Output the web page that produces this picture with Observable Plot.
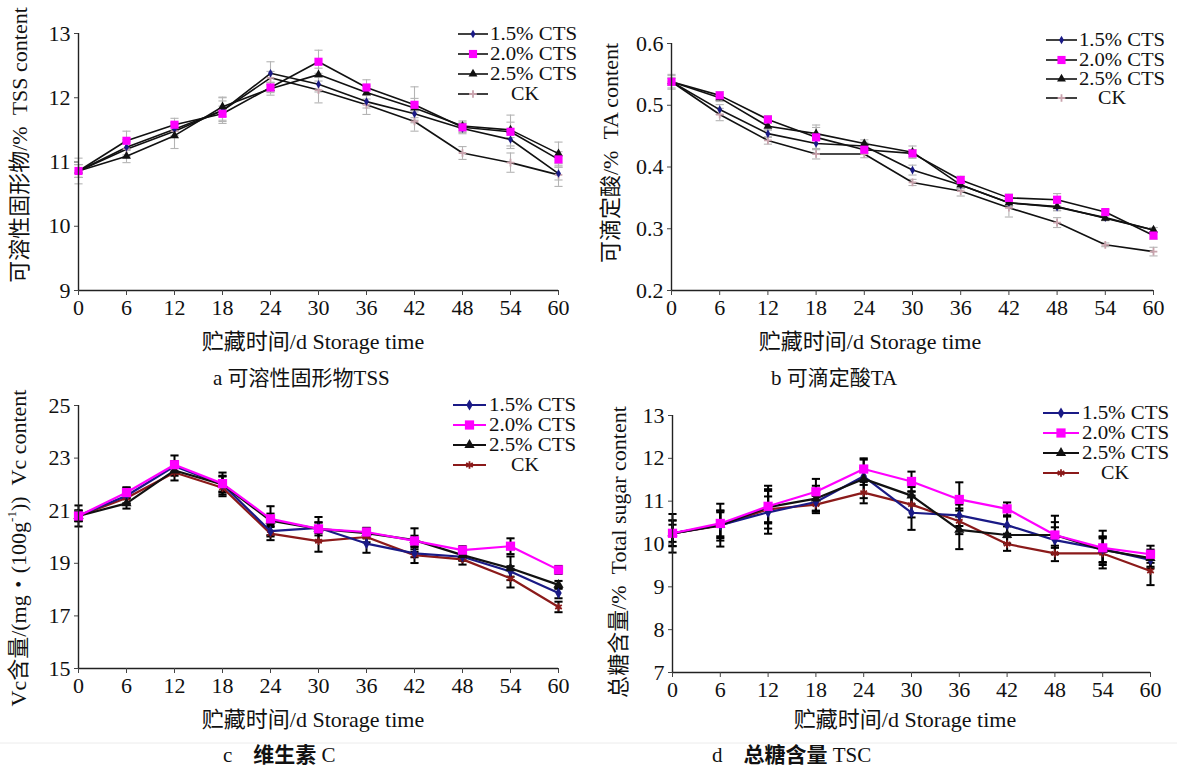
<!DOCTYPE html>
<html><head><meta charset="utf-8">
<script src="https://cdn.jsdelivr.net/npm/d3@7"></script>
<script src="https://cdn.jsdelivr.net/npm/@observablehq/plot@0.6"></script>
<style>
html,body{margin:0;padding:0;background:#fff;}
body{width:1177px;height:770px;position:relative;overflow:hidden;}
.panel{position:absolute;}
</style></head>
<body>
<script>
// ---------------- data ----------------
const days = [0, 6, 12, 18, 24, 30, 36, 42, 48, 54, 60];
const seriesNames = ["1.5% CTS", "2.0% CTS", "2.5% CTS", "CK"];

// a: soluble solids (TSS, %)
const tss15 = [10.86, 11.23, 11.51, 11.80, 12.38, 12.21, 11.94, 11.75, 11.52, 11.35, 10.82];
const tss20 = [10.86, 11.33, 11.58, 11.75, 12.16, 12.56, 12.16, 11.89, 11.54, 11.47, 11.04];
const tss25 = [10.86, 11.09, 11.41, 11.86, 12.14, 12.36, 12.08, 11.84, 11.56, 11.50, 11.13];
const tssCK = [10.86, 11.20, 11.48, 11.80, 12.31, 12.12, 11.89, 11.63, 11.14, 10.99, 10.80];
const tssErr15 = [0.20, 0.12, 0.10, 0.15, 0.18, 0.12, 0.10, 0.10, 0.08, 0.10, 0.10];
const tssErr20 = [0.10, 0.15, 0.10, 0.12, 0.08, 0.18, 0.12, 0.28, 0.08, 0.26, 0.12];
const tssErr25 = [0.10, 0.10, 0.20, 0.15, 0.10, 0.10, 0.10, 0.15, 0.08, 0.12, 0.18];
const tssErrCK = [0.10, 0.12, 0.10, 0.20, 0.10, 0.20, 0.15, 0.15, 0.10, 0.15, 0.18];

// b: titratable acid (TA, %)
const ta15 = [0.538, 0.493, 0.454, 0.438, 0.434, 0.395, 0.371, 0.342, 0.335, 0.318, 0.298];
const ta20 = [0.538, 0.516, 0.477, 0.448, 0.428, 0.422, 0.379, 0.350, 0.347, 0.327, 0.289];
const ta25 = [0.538, 0.512, 0.466, 0.454, 0.438, 0.424, 0.371, 0.342, 0.336, 0.317, 0.298];
const taCK = [0.538, 0.485, 0.443, 0.421, 0.421, 0.375, 0.361, 0.334, 0.310, 0.274, 0.263];
const taErr15 = [0.010, 0.008, 0.006, 0.008, 0.006, 0.008, 0.006, 0.006, 0.006, 0.004, 0.004];
const taErr20 = [0.006, 0.006, 0.006, 0.020, 0.006, 0.006, 0.006, 0.006, 0.010, 0.004, 0.006];
const taErr25 = [0.006, 0.006, 0.006, 0.010, 0.006, 0.010, 0.006, 0.006, 0.006, 0.004, 0.004];
const taErrCK = [0.012, 0.010, 0.006, 0.008, 0.006, 0.005, 0.008, 0.015, 0.008, 0.003, 0.007];

// c: vitamin C (mg/100g)
const vc15 = [20.81, 21.57, 22.69, 22.00, 20.22, 20.35, 19.75, 19.38, 19.25, 18.69, 17.87];
const vc20 = [20.80, 21.69, 22.75, 22.03, 20.69, 20.31, 20.19, 19.85, 19.50, 19.65, 18.75];
const vc25 = [20.80, 21.28, 22.53, 22.00, 20.62, 20.31, 20.15, 19.88, 19.31, 18.81, 18.18];
const vcCK = [20.80, 21.48, 22.45, 21.87, 20.13, 19.84, 20.00, 19.31, 19.15, 18.43, 17.34];
const vcErr15 = [0.20, 0.30, 0.20, 0.30, 0.20, 0.20, 0.35, 0.15, 0.15, 0.20, 0.20];
const vcErr20 = [0.20, 0.20, 0.35, 0.30, 0.20, 0.25, 0.15, 0.20, 0.15, 0.30, 0.15];
const vcErr25 = [0.40, 0.20, 0.20, 0.45, 0.55, 0.45, 0.20, 0.45, 0.20, 0.45, 0.15];
const vcErrCK = [0.20, 0.20, 0.30, 0.25, 0.25, 0.40, 0.20, 0.30, 0.20, 0.35, 0.20];

// d: total sugar (%)
const ts15 = [10.25, 10.44, 10.74, 10.98, 11.58, 10.73, 10.67, 10.44, 10.09, 9.88, 9.63];
const ts20 = [10.25, 10.48, 10.88, 11.22, 11.75, 11.46, 11.04, 10.82, 10.21, 9.91, 9.76];
const ts25 = [10.25, 10.44, 10.86, 11.06, 11.52, 11.13, 10.33, 10.21, 10.21, 9.86, 9.67];
const tsCK = [10.25, 10.43, 10.81, 10.92, 11.20, 10.92, 10.53, 10.00, 9.78, 9.78, 9.37];
const tsErr15 = [0.45, 0.30, 0.50, 0.20, 0.20, 0.40, 0.25, 0.20, 0.30, 0.30, 0.20];
const tsErr20 = [0.20, 0.30, 0.40, 0.30, 0.25, 0.23, 0.40, 0.15, 0.30, 0.40, 0.20];
const tsErr25 = [0.30, 0.50, 0.50, 0.30, 0.45, 0.20, 0.45, 0.20, 0.45, 0.30, 0.20];
const tsErrCK = [0.30, 0.35, 0.30, 0.20, 0.25, 0.30, 0.30, 0.16, 0.18, 0.35, 0.33];

// tick values
const ticksA = [9, 10, 11, 12, 13];
const ticksB = [0.2, 0.3, 0.4, 0.5, 0.6];
const ticksC = [15, 17, 19, 21, 23, 25];
const ticksD = [7, 8, 9, 10, 11, 12, 13];

// ---------------- styles ----------------
const FONT = "'Liberation Serif','Noto Sans CJK SC',serif";
const NAVY = "#1a1a86", MAG = "#ff00ff", BLK = "#111111", RED = "#8b1a1a";

const styleMono = { // panels a, b
  line: [BLK, BLK, BLK, BLK],
  mark: [NAVY, MAG, BLK, "#c9a3ad"],
  sym: ["diamond", "square", "triangle", "plus"],
  r: [2.6, 4.6, 3.3, 2.6],
  lw: 1.6, err: "#b4b4b4", errW: 1.1
};
const styleColor = { // panels c, d
  line: [NAVY, MAG, BLK, RED],
  mark: [NAVY, MAG, BLK, RED],
  sym: ["diamond", "square", "triangle", "asterisk"],
  r: [3.4, 5.2, 3.8, 3.6],
  lw: 2.2, err: "#000", errW: 2
};

const capSymbol = {draw(ctx, size) { const w = Math.sqrt(size); ctx.moveTo(-w, 0); ctx.lineTo(w, 0); }};

function panel(cfg) {
  const st = cfg.style;
  const marks = [];
  cfg.values.forEach((vals, i) => {
    const d = days.map((day, j) => ({name: seriesNames[i], day, v: vals[j], e: cfg.errs[i][j]}));
    marks.push(Plot.ruleX(d, {x: "day", y1: r => r.v - r.e, y2: r => r.v + r.e, stroke: st.err, strokeWidth: st.errW}));
    marks.push(Plot.dot(d, {x: "day", y: r => r.v + r.e, symbol: capSymbol, r: 2.3, stroke: st.err, strokeWidth: st.errW, fill: "none"}));
    marks.push(Plot.dot(d, {x: "day", y: r => r.v - r.e, symbol: capSymbol, r: 2.3, stroke: st.err, strokeWidth: st.errW, fill: "none"}));
  });
  const order = [3, 0, 2, 1];
  order.forEach(i => {
    const d = days.map((day, j) => ({name: seriesNames[i], day, v: cfg.values[i][j]}));
    marks.push(Plot.line(d, {x: "day", y: "v", stroke: st.line[i], strokeWidth: st.lw}));
  });
  order.forEach(i => {
    const d = days.map((day, j) => ({name: seriesNames[i], day, v: cfg.values[i][j]}));
    const strokeSym = st.sym[i] === "plus" || st.sym[i] === "asterisk";
    marks.push(Plot.dot(d, strokeSym
      ? {x: "day", y: "v", symbol: st.sym[i], r: st.r[i], stroke: st.mark[i], strokeWidth: 1.8, fill: "none"}
      : {x: "day", y: "v", symbol: st.sym[i], r: st.r[i], fill: st.mark[i], stroke: "none"}));
  });
  marks.push(Plot.ruleX([0], {stroke: "#222", strokeWidth: 1.4}));
  marks.push(Plot.ruleY([cfg.yDomain[0]], {stroke: "#222", strokeWidth: 1.4}));
  marks.push(Plot.axisX({ticks: days, tickSize: 5, tickPadding: 4, tickFormat: d => String(d), label: null, stroke: "#444"}));
  marks.push(Plot.axisY({ticks: cfg.yTicks, tickSize: 4, tickPadding: 4, tickFormat: cfg.fmt, label: null, stroke: "#444"}));
  const svg = Plot.plot({
    width: cfg.width, height: cfg.height,
    marginLeft: cfg.m[0], marginTop: cfg.m[1], marginRight: cfg.m[2], marginBottom: cfg.m[3],
    x: {domain: [0, 60]},
    y: {domain: cfg.yDomain},
    style: {fontSize: "22px", fontFamily: FONT, color: "#111", background: "transparent", overflow: "visible"},
    marks
  });
  svg.classList.add("panel");
  svg.style.left = cfg.left + "px";
  svg.style.top = cfg.top + "px";
  document.body.appendChild(svg);
}

panel({left: 0, top: 0, width: 590, height: 330, m: [78, 33, 32, 40], yDomain: [9, 13], yTicks: ticksA, fmt: d => String(d),
  values: [tss15, tss20, tss25, tssCK], errs: [tssErr15, tssErr20, tssErr25, tssErrCK], style: styleMono});
panel({left: 590, top: 0, width: 587, height: 330, m: [81, 43, 24, 40], yDomain: [0.2, 0.6], yTicks: ticksB, fmt: d => d.toFixed(1),
  values: [ta15, ta20, ta25, taCK], errs: [taErr15, taErr20, taErr25, taErrCK], style: styleMono});
panel({left: 0, top: 385, width: 590, height: 320, m: [78, 20, 32, 37], yDomain: [15, 25], yTicks: ticksC, fmt: d => String(d),
  values: [vc15, vc20, vc25, vcCK], errs: [vcErr15, vcErr20, vcErr25, vcErrCK], style: styleColor});
panel({left: 590, top: 385, width: 587, height: 320, m: [82, 30, 27, 33], yDomain: [7, 13], yTicks: ticksD, fmt: d => String(d),
  values: [ts15, ts20, ts25, tsCK], errs: [tsErr15, tsErr20, tsErr25, tsErrCK], style: styleColor});

// ---------------- overlay: labels, captions, legends ----------------
const ov = d3.select("body").append("svg")
  .attr("width", 1177).attr("height", 770)
  .style("position", "absolute").style("left", 0).style("top", 0)
  .style("font-family", FONT).style("pointer-events", "none");

ov.append("line").attr("x1", 0).attr("x2", 1177).attr("y1", 743).attr("y2", 743).attr("stroke", "#ececec");

const xLabels = [{x: 313, y: 349}, {x: 870, y: 349}, {x: 313, y: 727}, {x: 905, y: 727}];
xLabels.forEach(p => ov.append("text").attr("x", p.x).attr("y", p.y).attr("text-anchor", "middle")
  .attr("font-size", 22).attr("fill", "#111").text("贮藏时间/d Storage time"));

const yLabels = [
  {x: 22, y: 145, parts: [["可溶性固形物/%\u00a0\u00a0TSS content"]]},
  {x: 613, y: 153, parts: [["可滴定酸/%\u00a0\u00a0TA content"]]},
  {x: 21, y: 548, parts: [["Vc含量/(mg・(100g"], ["-1", "sup"], ["))\u00a0\u00a0Vc content"]]},
  {x: 621, y: 552, parts: [["总糖含量/%\u00a0\u00a0Total sugar content"]]}
];
yLabels.forEach(p => {
  const t = ov.append("text").attr("transform", `translate(${p.x},${p.y}) rotate(-90)`)
    .attr("text-anchor", "middle").attr("dominant-baseline", "middle").attr("font-size", 22).attr("fill", "#111");
  p.parts.forEach(([s, k]) => {
    const ts = t.append("tspan").text(s);
    if (k === "sup") ts.attr("font-size", 13).attr("dy", -8);
    else if (p.parts.length > 1 && s.startsWith(")")) ts.attr("dy", 8);
  });
});

const captions = [
  {x: 213, y: 385, parts: [["a 可溶性固形物TSS", 400]]},
  {x: 771, y: 385, parts: [["b 可滴定酸TA", 400]]},
  {x: 223, y: 762, parts: [["c", 400], ["\u00a0\u00a0\u00a0\u00a0维生素", 700], ["\u00a0C", 400]]},
  {x: 712, y: 762, parts: [["d", 400], ["\u00a0\u00a0\u00a0\u00a0总糖含量", 700], ["\u00a0TSC", 400]]}
];
captions.forEach(c => {
  const t = ov.append("text").attr("x", c.x).attr("y", c.y).attr("font-size", 21).attr("fill", "#111");
  c.parts.forEach(([s, w]) => t.append("tspan").attr("font-weight", w).text(s));
});

const legends = [
  {x0: 458, x1: 488, tx: 490, ck: 511, ys: [34, 54, 74, 94], tl: 87, style: styleMono},
  {x0: 1046, x1: 1077, tx: 1079, ck: 1098, ys: [40, 60, 79, 98], tl: 86, style: styleMono},
  {x0: 453, x1: 486, tx: 489, ck: 511, ys: [405, 425, 445, 465], tl: 87, style: styleColor},
  {x0: 1043, x1: 1079, tx: 1082, ck: 1101, ys: [413, 433, 453, 473], tl: 87, style: styleColor}
];
const d3sym = {diamond: d3.symbolDiamond, square: d3.symbolSquare, triangle: d3.symbolTriangle, plus: d3.symbolPlus, asterisk: d3.symbolAsterisk};
legends.forEach(L => {
  const st = L.style;
  seriesNames.forEach((name, i) => {
    const y = L.ys[i];
    ov.append("line").attr("x1", L.x0).attr("x2", L.x1).attr("y1", y).attr("y2", y)
      .attr("stroke", st.line[i]).attr("stroke-width", st.lw);
    const strokeSym = st.sym[i] === "plus" || st.sym[i] === "asterisk";
    const path = d3.symbol(d3sym[st.sym[i]], Math.PI * st.r[i] * st.r[i])();
    const p = ov.append("path").attr("d", path).attr("transform", `translate(${(L.x0 + L.x1) / 2},${y})`);
    if (strokeSym) p.attr("fill", "none").attr("stroke", st.mark[i]).attr("stroke-width", 1.8);
    else p.attr("fill", st.mark[i]);
    const t = ov.append("text").attr("x", i === 3 ? L.ck : L.tx).attr("y", y).attr("dy", "0.35em")
      .attr("font-size", 18).attr("fill", "#111").text(name);
    if (i < 3) t.attr("textLength", L.tl).attr("lengthAdjust", "spacingAndGlyphs");
    else t.attr("textLength", 28).attr("lengthAdjust", "spacingAndGlyphs");
  });
});
</script>
</body></html>
